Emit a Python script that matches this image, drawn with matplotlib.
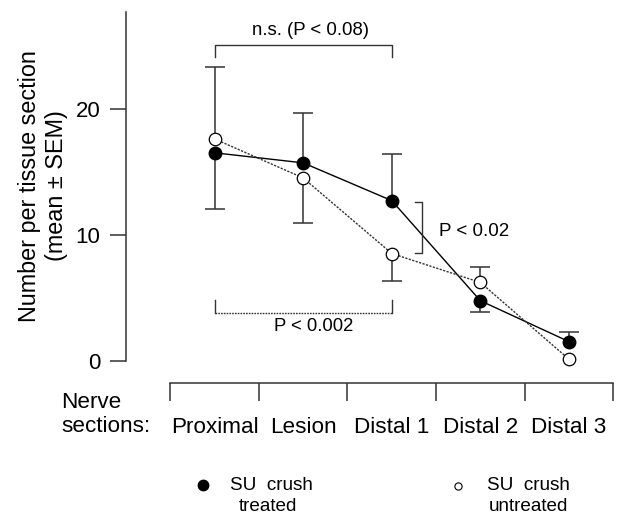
import numpy as np
import matplotlib
matplotlib.use("Agg")
import matplotlib.pyplot as plt

plt.rcParams["font.family"] = ["Liberation Sans", "DejaVu Sans"]

# values
sections = ["Proximal", "Lesion", "Distal 1", "Distal 2", "Distal 3"]
treated = [16.5, 15.7, 12.7, 4.75, 1.5]
untreated = [17.6, 14.5, 8.5, 6.2, 0.1]
# one-sided SEM bars as drawn in the figure
treated_sem_up = [0, 4.0, 3.7, 0, 0.8]
treated_sem_down = [4.5, 0, 0, 0.9, 0]
untreated_sem_up = [5.7, 0, 0, 1.25, 0]
untreated_sem_down = [0, 3.6, 2.2, 0, 0]
yticks = [0, 10, 20]

dark = "#333333"
x = np.arange(len(sections))

fig = plt.figure(figsize=(6.23, 5.16), dpi=100)
ax = fig.add_axes([126 / 623, (516 - 383.3) / 516, (623 - 126) / 623, (383.3 - 12.3) / 516])


def sem_bars(vals, up, down):
    vals, up, down = np.array(vals), np.array(up), np.array(down)
    for err, sign in ((up, 1), (down, -1)):
        m = err > 0
        ends = vals[m] + sign * err[m]
        ax.vlines(x[m], vals[m], ends, color=dark, lw=1.1, zorder=1)
        ax.plot(x[m], ends, ls="none", marker="_", ms=15, mew=1.1, color=dark, zorder=1)


sem_bars(treated, treated_sem_up, treated_sem_down)
sem_bars(untreated, untreated_sem_up, untreated_sem_down)

ax.plot(x, treated, color="black", lw=1.0, zorder=2)
ax.plot(x, untreated, color=dark, lw=1.0, ls=(0, (1.6, 1.0)), zorder=2)
ax.plot(x, treated, ls="none", marker="o", ms=9, mfc="black", mec="black", zorder=3)
ax.plot(x, untreated, ls="none", marker="o", ms=9, mfc="white", mec="black", mew=0.9, zorder=3)

# significance brackets
ax.plot([0, 0, 2, 2], [24.1, 25.06, 25.06, 24.1], color=dark, lw=1.0)
ax.text(1.08, 26.25, "n.s. (P < 0.08)", ha="center", va="center", fontsize=13.4)
ax.plot([0, 2], [3.8, 3.8], color=dark, lw=1.0, ls=(0, (1.2, 0.8)))
ax.plot([0, 0], [4.8, 3.8], color=dark, lw=1.0)
ax.plot([2, 2], [4.8, 3.8], color=dark, lw=1.0)
ax.text(1.12, 2.74, "P < 0.002", ha="center", va="center", fontsize=13.3)
ax.plot([2.26, 2.34, 2.34, 2.26], [12.61, 12.61, 8.56, 8.56], color=dark, lw=1.0)
ax.text(2.53, 10.23, "P < 0.02", ha="left", va="center", fontsize=13.5)

ax.set_xlim(-1.0, 4.61)
ax.set_ylim(-1.81, 27.66)
for s in ("top", "right"):
    ax.spines[s].set_visible(False)
for s in ("left", "bottom"):
    ax.spines[s].set_color(dark)
    ax.spines[s].set_linewidth(1.1)
ax.spines["left"].set_bounds(0, 27.66)
ax.spines["bottom"].set_bounds(-0.5, 4.5)

ax.set_yticks(yticks)
ax.tick_params(axis="y", direction="out", length=11.5, width=1.1, color=dark, pad=7, labelsize=16)
ax.set_xticks(np.arange(-0.5, 5, 1.0))
ax.set_xticklabels([])
ax.tick_params(axis="x", which="major", direction="out", length=13, width=1.1, color=dark)
ax.set_xticks(x, labels=sections, minor=True)
ax.tick_params(axis="x", which="minor", length=0, pad=24.5, labelsize=16.2)

fig.text(43 / 623, 1 - 186 / 516, "Number per tissue section\n(mean ± SEM)",
         rotation=90, ha="center", va="center", multialignment="center", fontsize=16.8)
fig.text(61 / 623, 1 - 403 / 516, "Nerve", ha="left", va="center", fontsize=16.2)
fig.text(61 / 623, 1 - 426 / 516, "sections:", ha="left", va="center", fontsize=16.2)

# legend
fig.lines.append(plt.Line2D([202.7 / 623], [1 - 485.3 / 516], ls="none", marker="o", ms=7.5,
                            mfc="black", mec="black", transform=fig.transFigure))
fig.lines.append(plt.Line2D([458.3 / 623], [1 - 486 / 516], ls="none", marker="o", ms=5.2,
                            mfc="white", mec="black", mew=0.8, transform=fig.transFigure))
fig.text(271.7 / 623, 1 - 485 / 516, "SU  crush", ha="center", va="center", fontsize=13.6)
fig.text(268 / 623, 1 - 506.7 / 516, "treated", ha="center", va="center", fontsize=13.6)
fig.text(528 / 623, 1 - 485 / 516, "SU  crush", ha="center", va="center", fontsize=13.6)
fig.text(528 / 623, 1 - 506.7 / 516, "untreated", ha="center", va="center", fontsize=13.6)

fig.savefig("out.png", dpi=100)
